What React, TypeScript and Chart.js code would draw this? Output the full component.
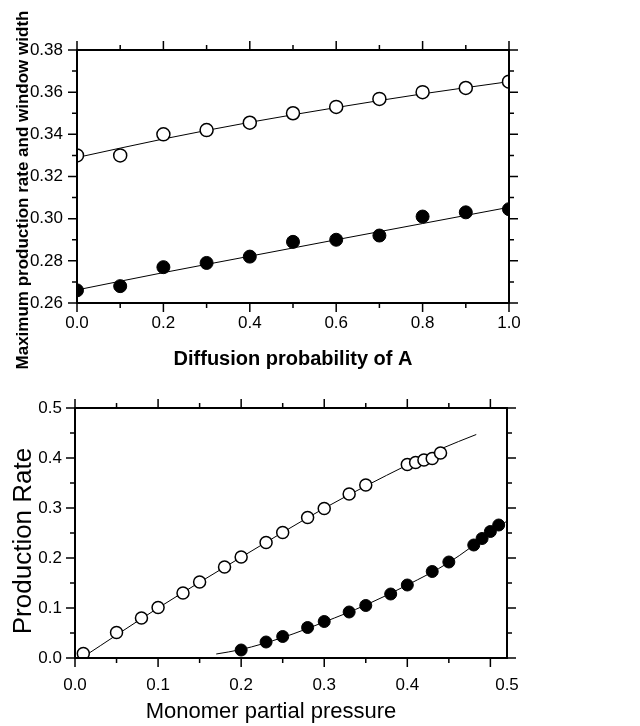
import React, { useEffect, useRef } from "react";
import { Chart, registerables } from "chart.js";
Chart.register(...registerables);

// ---------- Top chart data ----------
const diffusionProb = [0, 0.1, 0.2, 0.3, 0.4, 0.5, 0.6, 0.7, 0.8, 0.9, 1.0];
const windowWidth = [0.330, 0.330, 0.340, 0.342, 0.3455, 0.350, 0.353, 0.3568, 0.360, 0.362, 0.365];
const maxRate = [0.266, 0.268, 0.277, 0.279, 0.282, 0.289, 0.290, 0.292, 0.301, 0.303, 0.3045];
const windowFitX = [0, 0.2, 0.4, 0.6, 0.8, 1.0];
const windowFitY = [0.329, 0.3378, 0.3457, 0.3527, 0.3592, 0.365];
const rateFitX = [0, 0.2, 0.4, 0.6, 0.8, 1.0];
const rateFitY = [0.2662, 0.2744, 0.2822, 0.29, 0.2977, 0.3054];
const topXMajor = [0, 0.2, 0.4, 0.6, 0.8, 1.0];
const topXMinor = [0.1, 0.3, 0.5, 0.7, 0.9];
const topYMajor = [0.26, 0.28, 0.30, 0.32, 0.34, 0.36, 0.38];
const topYMinor = [0.27, 0.29, 0.31, 0.33, 0.35, 0.37];

// ---------- Bottom chart data ----------
const openPressure = [0.01, 0.05, 0.08, 0.10, 0.13, 0.15, 0.18, 0.20, 0.23, 0.25, 0.28, 0.30, 0.33, 0.35, 0.40, 0.41, 0.42, 0.43, 0.44];
const openRate = [0.009, 0.051, 0.080, 0.101, 0.130, 0.152, 0.182, 0.202, 0.231, 0.251, 0.281, 0.299, 0.328, 0.346, 0.387, 0.391, 0.396, 0.399, 0.410];
const filledPressure = [0.20, 0.23, 0.25, 0.28, 0.30, 0.33, 0.35, 0.38, 0.40, 0.43, 0.45, 0.48, 0.49, 0.50, 0.51];
const filledRate = [0.016, 0.032, 0.043, 0.061, 0.073, 0.092, 0.105, 0.128, 0.146, 0.173, 0.192, 0.226, 0.239, 0.253, 0.266];
const openFitX = [0.008, 0.1, 0.2, 0.3, 0.35, 0.4, 0.44, 0.483];
const openFitY = [0.0, 0.1, 0.2015, 0.2995, 0.344, 0.386, 0.418, 0.447];
const filledFitX = [0.17, 0.2, 0.25, 0.3, 0.35, 0.4, 0.45, 0.5, 0.52];
const filledFitY = [0.008, 0.017, 0.041, 0.072, 0.106, 0.146, 0.191, 0.25, 0.274];
const botXMajor = [0, 0.1, 0.2, 0.3, 0.4, 0.5];
const botXMinor = [0.05, 0.15, 0.25, 0.35, 0.45];
const botYMajor = [0, 0.1, 0.2, 0.3, 0.4, 0.5];
const botYMinor = [0.05, 0.15, 0.25, 0.35, 0.45];

const FONT = "'Liberation Sans', Arial, Helvetica, sans-serif";

const zip = (xs: number[], ys: number[]) => xs.map((x, i) => ({ x, y: ys[i] }));

type FrameOpts = {
  xMajor: number[]; xMinor: number[]; yMajor: number[]; yMinor: number[];
  xTitle: string; xTitleFont: string; xTitleX: number; xTitleBase: number;
  yTitle: string; yTitleFont: string; yTitleBase: number; yTitleY: number;
};

const framePlugin = {
  id: "frame",
  afterDraw(chart: any, _args: any, o: FrameOpts) {
    const { ctx, chartArea: a, scales } = chart;
    const xs = scales.x, ys = scales.y;
    const MAJ = 9, MIN = 5;
    ctx.save();
    ctx.strokeStyle = "#000";
    ctx.lineWidth = 1.5;
    ctx.beginPath();
    const tickX = (v: number, len: number) => {
      const p = xs.getPixelForValue(v);
      ctx.moveTo(p, a.bottom); ctx.lineTo(p, a.bottom + len);
      ctx.moveTo(p, a.top); ctx.lineTo(p, a.top - len);
    };
    const tickY = (v: number, len: number) => {
      const p = ys.getPixelForValue(v);
      ctx.moveTo(a.left, p); ctx.lineTo(a.left - len, p);
      ctx.moveTo(a.right, p); ctx.lineTo(a.right + len, p);
    };
    o.xMajor.forEach((v) => tickX(v, MAJ));
    o.xMinor.forEach((v) => tickX(v, MIN));
    o.yMajor.forEach((v) => tickY(v, MAJ));
    o.yMinor.forEach((v) => tickY(v, MIN));
    ctx.stroke();
    ctx.lineWidth = 2;
    ctx.strokeRect(a.left, a.top, a.right - a.left, a.bottom - a.top);
    ctx.fillStyle = "#000";
    ctx.font = o.xTitleFont;
    ctx.textAlign = "center";
    ctx.textBaseline = "alphabetic";
    ctx.fillText(o.xTitle, o.xTitleX, o.xTitleBase);
    ctx.translate(o.yTitleBase, o.yTitleY);
    ctx.rotate(-Math.PI / 2);
    ctx.font = o.yTitleFont;
    ctx.fillText(o.yTitle, 0, 0);
    ctx.restore();
  },
};

function makeConfig(p: {
  datasets: any[]; xMin: number; xMax: number; yMin: number; yMax: number;
  xStep: number; yStep: number; yDigits: number; xDigits: number;
  leftW: number; xH: number; top: number; right: number; xPad: number; yPad: number;
  frame: FrameOpts;
}): any {
  return {
    type: "scatter",
    data: { datasets: p.datasets },
    options: {
      animation: false,
      responsive: false,
      maintainAspectRatio: false,
      layout: { padding: { left: 0, top: p.top, right: p.right, bottom: 0 } },
      plugins: { legend: { display: false }, tooltip: { enabled: false }, frame: p.frame },
      scales: {
        x: {
          type: "linear", min: p.xMin, max: p.xMax,
          grid: { display: false, drawTicks: false }, border: { display: false },
          ticks: {
            stepSize: p.xStep, padding: p.xPad, color: "#000", maxRotation: 0,
            font: { family: FONT, size: 17 },
            callback: (v: any) => Number(v).toFixed(p.xDigits),
          },
          afterFit: (s: any) => { s.height = p.xH; },
        },
        y: {
          type: "linear", min: p.yMin, max: p.yMax,
          grid: { display: false, drawTicks: false }, border: { display: false },
          ticks: {
            stepSize: p.yStep, padding: p.yPad, color: "#000",
            font: { family: FONT, size: 17 },
            callback: (v: any) => Number(v).toFixed(p.yDigits),
          },
          afterFit: (s: any) => { s.width = p.leftW; },
        },
      },
    },
    plugins: [framePlugin],
  };
}

const pointOpen = (data: any[], r: number) => ({
  data, showLine: false, pointRadius: r, pointHoverRadius: r, pointBorderWidth: 1.5,
  pointBackgroundColor: "#fff", pointBorderColor: "#000", clip: 0, order: 0,
});
const pointFilled = (data: any[], r: number) => ({
  data, showLine: false, pointRadius: r, pointHoverRadius: r, pointBorderWidth: 1,
  pointBackgroundColor: "#000", pointBorderColor: "#000", clip: 0, order: 0,
});
const fitLine = (data: any[]) => ({
  data, showLine: true, pointRadius: 0, borderWidth: 1, borderColor: "#000",
  cubicInterpolationMode: "monotone", fill: false, clip: 0, order: 1,
});

function useChart(ref: React.RefObject<HTMLCanvasElement>, cfg: () => any) {
  useEffect(() => {
    if (!ref.current) return;
    const c = new Chart(ref.current, cfg());
    return () => c.destroy();
  }, []);
}

export default function App() {
  const topRef = useRef<HTMLCanvasElement>(null);
  const botRef = useRef<HTMLCanvasElement>(null);

  useChart(topRef, () =>
    makeConfig({
      datasets: [
        pointOpen(zip(diffusionProb, windowWidth), 6.5),
        pointFilled(zip(diffusionProb, maxRate), 6.5),
        fitLine(zip(windowFitX, windowFitY)),
        fitLine(zip(rateFitX, rateFitY)),
      ],
      xMin: 0, xMax: 1, yMin: 0.26, yMax: 0.38, xStep: 0.2, yStep: 0.02,
      xDigits: 1, yDigits: 2,
      leftW: 77, xH: 82, top: 50, right: 131, xPad: 10, yPad: 14,
      frame: {
        xMajor: topXMajor, xMinor: topXMinor, yMajor: topYMajor, yMinor: topYMinor,
        xTitle: "Diffusion probability of A", xTitleFont: `bold 20px ${FONT}`,
        xTitleX: 293, xTitleBase: 365,
        yTitle: "Maximum production rate and window width", yTitleFont: `bold 17px ${FONT}`,
        yTitleBase: 28, yTitleY: 190,
      },
    })
  );

  useChart(botRef, () =>
    makeConfig({
      datasets: [
        pointOpen(zip(openPressure, openRate), 6),
        pointFilled(zip(filledPressure, filledRate), 6),
        fitLine(zip(openFitX, openFitY)),
        fitLine(zip(filledFitX, filledFitY)),
      ],
      xMin: 0, xMax: 0.52, yMin: 0, yMax: 0.5, xStep: 0.1, yStep: 0.1,
      xDigits: 1, yDigits: 1,
      leftW: 75, xH: 68, top: 38, right: 133, xPad: 17, yPad: 13,
      frame: {
        xMajor: botXMajor, xMinor: botXMinor, yMajor: botYMajor, yMinor: botYMinor,
        xTitle: "Monomer partial pressure", xTitleFont: `22px ${FONT}`,
        xTitleX: 271, xTitleBase: 348,
        yTitle: "Production Rate", yTitleFont: `26px ${FONT}`,
        yTitleBase: 31, yTitleY: 171,
      },
    })
  );

  return (
    <div style={{ position: "fixed", left: 0, top: 0, width: 640, height: 726, background: "#fff" }}>
      <canvas ref={topRef} width={640} height={385}
        style={{ position: "absolute", left: 0, top: 0, width: 640, height: 385 }} />
      <canvas ref={botRef} width={640} height={356}
        style={{ position: "absolute", left: 0, top: 370, width: 640, height: 356 }} />
    </div>
  );
}
